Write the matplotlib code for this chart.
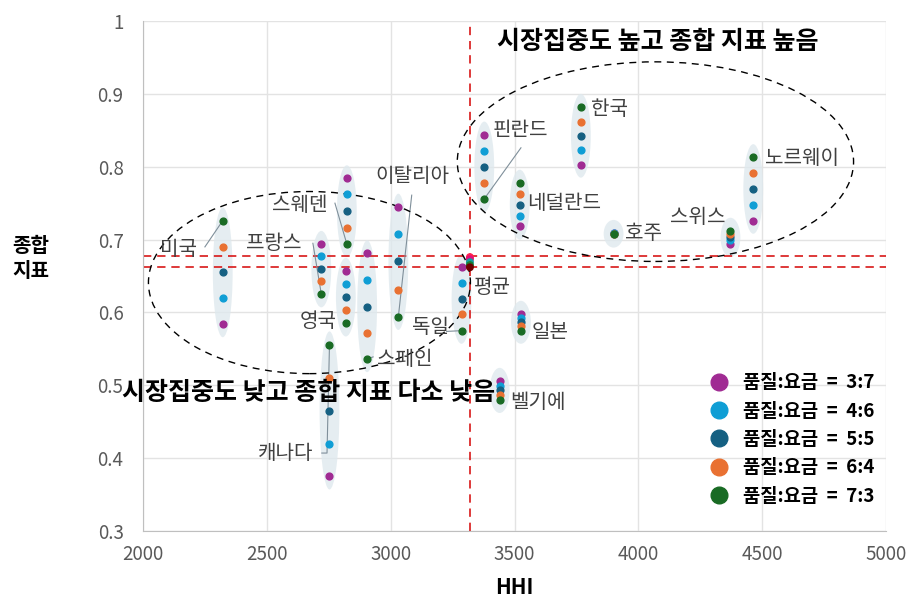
import numpy as np
import matplotlib
matplotlib.use("Agg")
import matplotlib.pyplot as plt
from matplotlib.patches import Ellipse
from matplotlib.lines import Line2D

plt.rcParams['font.family'] = ['Noto Sans CJK KR', 'DejaVu Sans']

# HHI and 종합 지표 per country, weights 3:7 .. 7:3
countries = ['미국', '프랑스', '스웨덴', '영국', '스페인', '이탈리아', '독일', '캐나다',
             '핀란드', '네덜란드', '한국', '호주', '스위스', '노르웨이', '일본', '벨기에']
hhi = [2322, 2720, 2823, 2819, 2905, 3031, 3286, 2753,
       3378, 3521, 3768, 3900, 4372, 4464, 3526, 3440]
score = [
    [0.584, 0.620, 0.655, 0.690, 0.726],  # 미국
    [0.694, 0.677, 0.660, 0.643, 0.625],  # 프랑스
    [0.784, 0.762, 0.739, 0.716, 0.694],  # 스웨덴
    [0.657, 0.639, 0.621, 0.603, 0.585],  # 영국
    [0.681, 0.645, 0.608, 0.572, 0.536],  # 스페인
    [0.745, 0.707, 0.670, 0.631, 0.594],  # 이탈리아
    [0.662, 0.640, 0.619, 0.598, 0.575],  # 독일
    [0.375, 0.420, 0.465, 0.510, 0.556],  # 캐나다
    [0.844, 0.822, 0.800, 0.778, 0.756],  # 핀란드
    [0.718, 0.733, 0.748, 0.763, 0.778],  # 네덜란드
    [0.803, 0.823, 0.842, 0.861, 0.882],  # 한국
    [0.709, 0.709, 0.708, 0.708, 0.707],  # 호주
    [0.694, 0.699, 0.703, 0.707, 0.712],  # 스위스
    [0.726, 0.748, 0.770, 0.792, 0.813],  # 노르웨이
    [0.598, 0.592, 0.587, 0.581, 0.575],  # 일본
    [0.506, 0.499, 0.493, 0.487, 0.480],  # 벨기에
]
avg_hhi = 3320
avg_score = [0.676, 0.673, 0.669, 0.665, 0.662]
avg_lines = [0.677, 0.662]

weights = ['3:7', '4:6', '5:5', '6:4', '7:3']
colors = ['#A02B93', '#0F9ED5', '#156082', '#E97132', '#196B24']

# label centre (data coords)
label_pos = {
    '미국': (2143, 0.687), '프랑스': (2529, 0.695), '스웨덴': (2634, 0.747),
    '영국': (2707, 0.587), '스페인': (3058, 0.536), '이탈리아': (3086, 0.787),
    '독일': (3159, 0.579), '캐나다': (2577, 0.407), '핀란드': (3522, 0.850),
    '네덜란드': (3700, 0.750), '한국': (3885, 0.879), '호주': (4019, 0.709),
    '스위스': (4241, 0.731), '노르웨이': (4660, 0.812), '일본': (3643, 0.573),
    '벨기에': (3595, 0.477),
}
# leader line start points (label edge), lines end at the 7:3 point
leader = {
    '미국': [(2250, 0.690)], '프랑스': [(2686, 0.695)], '스웨덴': [(2775, 0.750)],
    '이탈리아': [(3085, 0.761)], '독일': [(3226, 0.574)], '스페인': [(2929, 0.539)],
    '캐나다': [(2722, 0.407), (2743, 0.407)], '핀란드': [(3526, 0.826)],
}

fig = plt.figure(figsize=(9.19, 6.03), dpi=100)
ax = fig.add_axes([0.1556, 0.1194, 0.8085, 0.8457])
ax.set_xlim(2000, 5000)
ax.set_ylim(0.3, 1.0)
ax.set_xticks(np.arange(2000, 5001, 500))
ax.set_yticks(np.arange(0.3, 1.01, 0.1))
ax.set_yticklabels(['0.3', '0.4', '0.5', '0.6', '0.7', '0.8', '0.9', '1'])
ax.grid(True, color='#e3e3e3', linewidth=1)
ax.set_axisbelow(True)
for s in ['top', 'right']:
    ax.spines[s].set_visible(False)
for s in ['left', 'bottom']:
    ax.spines[s].set_color('#bfbfbf')
ax.tick_params(length=0, labelsize=13.5, colors='#595959')
ax.tick_params(axis='x', pad=9)
ax.tick_params(axis='y', pad=14)

# shaded clusters
for h, sc in zip(hhi, score):
    lo, hi = min(sc), max(sc)
    ax.add_patch(Ellipse((h, (lo + hi) / 2), 80, hi - lo + 0.036,
                         facecolor='#dfe9ee', edgecolor='none', alpha=0.8, zorder=1))

for i, w in enumerate(weights):
    ax.scatter(hhi, [sc[i] for sc in score], s=24, color=colors[i], zorder=4)
ax.scatter([avg_hhi] * 5, avg_score, s=22, zorder=4,
           color=['#ff2050', '#e0107a', '#10a0a0', '#1a7a30', '#700000'])

# labels and leader lines
for name, h, sc in zip(countries, hhi, score):
    lx, ly = label_pos[name]
    ax.text(lx, ly, name, fontsize=14.5, color='#404040', ha='center', va='center', zorder=5)
    if name in leader:
        pts = leader[name] + [(h, sc[4])]
        ax.plot([p[0] for p in pts], [p[1] for p in pts], color='#7f8f9a',
                linewidth=0.8, zorder=3)
ax.text(3413, 0.634, '평균', fontsize=14.5, color='#404040', ha='center', va='center', zorder=5)

# reference lines
ax.axvline(avg_hhi, color='#d81818', linestyle=(0, (5, 3.5)), linewidth=1.2, zorder=2)
for yv in avg_lines:
    ax.axhline(yv, color='#d81818', linestyle=(0, (5, 3.5)), linewidth=1.2, zorder=2)

# group ellipses
ax.add_patch(Ellipse((2672, 0.641), 1300, 0.250, fill=False, edgecolor='black',
                     linestyle=(0, (5, 4)), linewidth=1, zorder=3))
ax.add_patch(Ellipse((4069, 0.807), 1600, 0.274, fill=False, edgecolor='black',
                     linestyle=(0, (5, 4)), linewidth=1, zorder=3))
ax.text(4077, 0.971, '시장집중도 높고 종합 지표 높음', fontsize=18, fontweight='bold',
        ha='center', va='center', zorder=6)
ax.text(2668, 0.490, '시장집중도 낮고 종합 지표 다소 낮음', fontsize=18, fontweight='bold',
        ha='center', va='center', zorder=6)

ax.set_xlabel('HHI', fontsize=15, fontweight='bold', labelpad=9)
fig.text(0.034, 0.572, '종합\n지표', fontsize=14.5, fontweight='bold', ha='center',
         va='center', linespacing=1.25)

handles = [Line2D([], [], marker='o', linestyle='none', markersize=12, color=c,
                  label='품질:요금  =  ' + w) for c, w in zip(colors, weights)]
ax.legend(handles=handles, loc='lower right', bbox_to_anchor=(0.995, 0.035), frameon=False,
          prop={'size': 13.5, 'weight': 'bold'}, handletextpad=0.3, labelspacing=0.5,
          borderaxespad=0)

fig.savefig('out.png', dpi=100)
